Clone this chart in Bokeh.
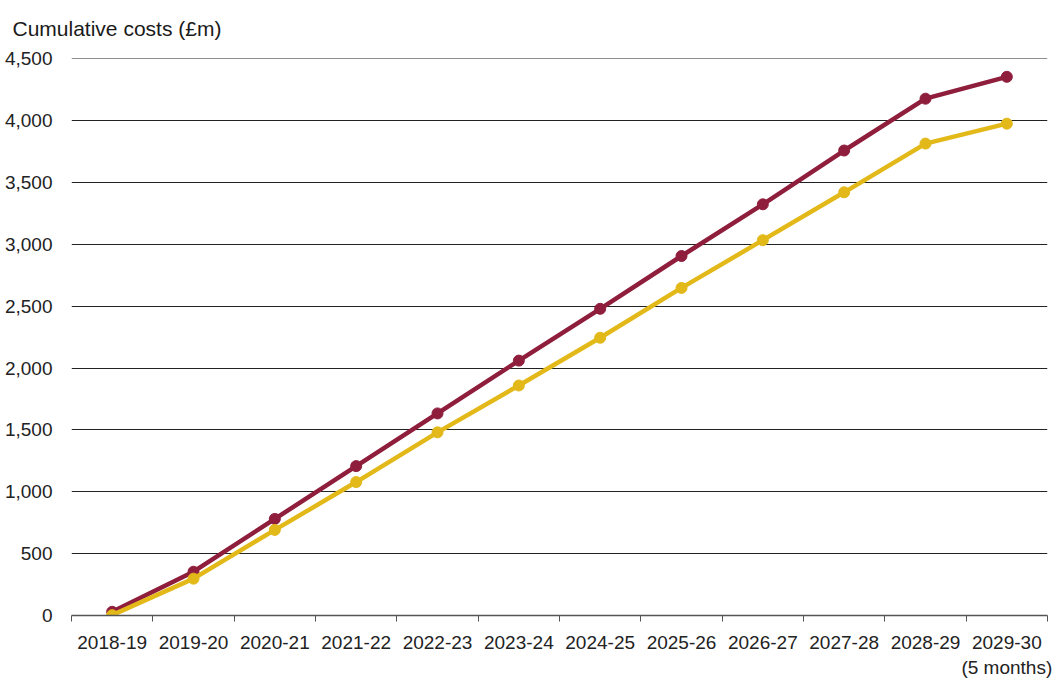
from bokeh.plotting import figure
from bokeh.models import Range1d, FixedTicker, NumeralTickFormatter
from bokeh.embed import file_html
from bokeh.resources import INLINE

years = ["2018-19", "2019-20", "2020-21", "2021-22", "2022-23", "2023-24",
         "2024-25", "2025-26", "2026-27", "2027-28", "2028-29", "2029-30\n(5 months)"]
series_a = [30, 354, 781, 1208, 1634, 2061, 2480, 2907, 3325, 3760, 4179, 4356]
series_b = [3, 298, 692, 1079, 1481, 1860, 2246, 2649, 3035, 3422, 3816, 3977]
y_ticks = [0, 500, 1000, 1500, 2000, 2500, 3000, 3500, 4000, 4500]

RED = "#8f1d3c"
YEL = "#e2b919"
FONT = "Liberation Sans"

n = len(years)
xs = [i + 0.5 for i in range(n)]

p = figure(width=1064, height=680, output_backend="svg", toolbar_location=None,
           x_range=Range1d(0, n), y_range=Range1d(0, 4504),
           min_border_left=71, min_border_right=17, min_border_bottom=63,
           min_border_top=0)
p.outline_line_color = None
p.background_fill_color = "white"

p.title.text = "Cumulative costs (£m)"
p.title.text_font = FONT
p.title.text_font_size = "21px"
p.title.text_font_style = "normal"
p.title.text_color = "#1a1a1a"
p.title.align = "left"
p.title.vertical_align = "top"
p.title.offset = -59
p.title.standoff = 33

# lines and markers
p.line(xs, series_a, line_color=RED, line_width=4.5)
p.scatter(xs, series_a, size=11, fill_color=RED, line_color=RED)
p.line(xs, series_b, line_color=YEL, line_width=4.5)
p.scatter(xs, series_b, size=11, fill_color=YEL, line_color=YEL)

# x axis
xa = p.xaxis[0]
xa.ticker = FixedTicker(ticks=xs, minor_ticks=list(range(n + 1)))
xa.major_label_overrides = {x: lab for x, lab in zip(xs, years)}
xa.major_tick_line_color = None
xa.minor_tick_line_color = "#555555"
xa.minor_tick_out = 6
xa.minor_tick_in = 0
xa.axis_line_color = "#555555"
xa.axis_line_width = 1.5
xa.major_label_text_font = FONT
xa.major_label_text_font_size = "19px"
xa.major_label_text_color = "#222222"
xa.major_label_standoff = 10

# y axis
ya = p.yaxis[0]
ya.ticker = FixedTicker(ticks=y_ticks)
ya.formatter = NumeralTickFormatter(format="0,0")
ya.axis_line_color = None
ya.major_tick_line_color = None
ya.minor_tick_line_color = None
ya.major_label_text_font = FONT
ya.major_label_text_font_size = "19px"
ya.major_label_text_color = "#222222"
ya.major_label_standoff = 13

p.xgrid.grid_line_color = None
p.ygrid.ticker = FixedTicker(ticks=y_ticks[1:])
p.ygrid.grid_line_color = "#222222"
p.ygrid.grid_line_width = 1.2

open("out.html", "w").write(file_html(p, INLINE))
